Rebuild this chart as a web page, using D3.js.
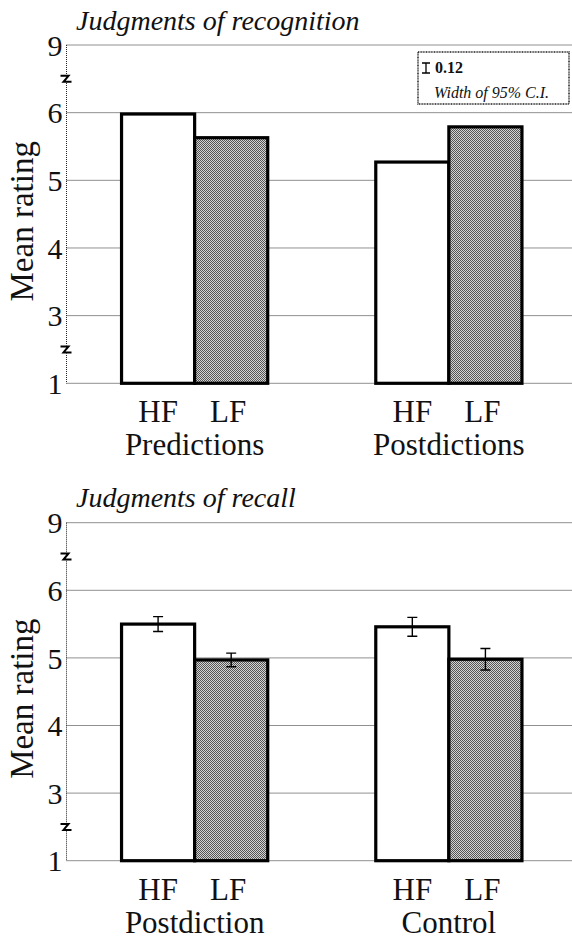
<!DOCTYPE html>
<html><head><meta charset="utf-8">
<script src="https://cdn.jsdelivr.net/npm/d3@7"></script>
<style>html,body{margin:0;padding:0;background:#fff;}svg{display:block;}
svg text{font-family:"Liberation Serif","Times New Roman",Times,serif;}</style>
</head><body>
<script>
// ---- data ----
const freqLevels = ["HF", "LF"];
const recognitionConditions = ["Predictions", "Postdictions"];
const recognitionHF = [5.98, 5.27];
const recognitionLF = [5.63, 5.79];
const recallConditions = ["Postdiction", "Control"];
const recallHF = [5.50, 5.46];
const recallLF = [4.97, 4.98];
const recallCIHF = [0.11, 0.14];
const recallCILF = [0.10, 0.16];
const yTicks = [1, 3, 4, 5, 6, 9];
const breakPoints = [7.5, 2];
const panelTitles = ["Judgments of recognition", "Judgments of recall"];
const yAxisTitle = "Mean rating";
const legendValue = "0.12";
const legendText = "Width of 95% C.I.";

// ---- layout ----
const W = 572, H = 940;
const svg = d3.select("body").append("svg").attr("width", W).attr("height", H);
const defs = svg.append("defs");
const pat = defs.append("pattern").attr("id", "stip").attr("patternUnits", "userSpaceOnUse")
  .attr("width", 2).attr("height", 2);
pat.append("rect").attr("width", 2).attr("height", 2).attr("fill", "#d4d4d4");
pat.append("rect").attr("x", 0).attr("y", 0).attr("width", 1).attr("height", 1).attr("fill", "#555");
pat.append("rect").attr("x", 1).attr("y", 1).attr("width", 1).attr("height", 1).attr("fill", "#555");

const axisX = 66.5, rightX = 572;

function panel(opts) {
  const {top, bottom, title, conds, hf, lf, ciHF, ciLF, legend} = opts;
  const g = svg.append("g");
  const step = (bottom - top) / (yTicks.length - 1);
  const y = d3.scaleLinear().domain(yTicks).range(yTicks.map((d, i) => bottom - i * step));
  const xg = d3.scaleBand().domain(conds).range([axisX, 577]).paddingInner(0.425).paddingOuter(0.2165);
  const xf = d3.scaleBand().domain(freqLevels).range([0, xg.bandwidth()]);

  // gridlines
  g.selectAll(".grid").data(yTicks).join("line")
    .attr("x1", axisX).attr("x2", rightX)
    .attr("y1", d => y(d)).attr("y2", d => y(d))
    .attr("stroke", "#222").attr("stroke-width", 1).attr("stroke-dasharray", "1,1");
  // vertical axis line
  g.append("line").attr("x1", axisX).attr("x2", axisX).attr("y1", y(9)).attr("y2", y(1))
    .attr("stroke", "#222").attr("stroke-width", 1).attr("stroke-dasharray", "1,1");

  // tick labels via axis
  const ax = g.append("g").attr("transform", `translate(${axisX},0)`)
    .call(d3.axisLeft(y).tickValues(yTicks).tickSize(0).tickPadding(4).tickFormat(d3.format("d")));
  ax.select(".domain").remove();
  ax.selectAll("text").style("font-family", '"Liberation Serif",serif').attr("font-size", 30).attr("fill", "#111")
    .attr("dy", "0.34em");

  // break marks
  breakPoints.forEach(b => {
    const cy = y(b);
    g.append("rect").attr("x", axisX - 2).attr("y", cy - 4).attr("width", 4).attr("height", 8).attr("fill", "#fff");
    g.append("path").attr("d", `M${axisX - 6},${cy - 3} L${axisX + 2},${cy - 3} L${axisX - 3},${cy + 3} L${axisX + 5},${cy + 3}`)
      .attr("fill", "none").attr("stroke", "#000").attr("stroke-width", 2);
  });

  // bars
  const rows = [];
  conds.forEach((c, i) => {
    rows.push({c, f: "HF", v: hf[i], ci: ciHF ? ciHF[i] : null});
    rows.push({c, f: "LF", v: lf[i], ci: ciLF ? ciLF[i] : null});
  });
  g.selectAll(".bar").data(rows).join("rect")
    .attr("x", d => xg(d.c) + xf(d.f)).attr("width", xf.bandwidth())
    .attr("y", d => y(d.v)).attr("height", d => y(1) - y(d.v))
    .attr("fill", d => d.f === "HF" ? "#fff" : "url(#stip)")
    .attr("stroke", "#000").attr("stroke-width", 3.2);

  // error bars
  const eb = rows.filter(d => d.ci != null);
  const cx = d => xg(d.c) + xf(d.f) + xf.bandwidth() / 2;
  g.selectAll(".eb").data(eb).join("path")
    .attr("d", d => {
      const x = cx(d), y1 = y(d.v + d.ci), y2 = y(d.v - d.ci);
      return `M${x - 5},${y1}H${x + 5}M${x},${y1}V${y2}M${x - 5},${y2}H${x + 5}`;
    })
    .attr("fill", "none").attr("stroke", "#000").attr("stroke-width", 1.4);

  // x labels
  rows.forEach(d => {
    g.append("text").attr("x", cx(d) - (d.f === "LF" ? 3 : 0)).attr("y", y(1) + 39).attr("text-anchor", "middle")
      .attr("font-size", 31).attr("fill", "#111").text(d.f);
  });
  conds.forEach(c => {
    g.append("text").attr("x", xg(c) + xg.bandwidth() / 2).attr("y", y(1) + 72).attr("text-anchor", "middle")
      .attr("font-size", 31).attr("fill", "#111").text(c);
  });

  // title
  g.append("text").attr("x", 76).attr("y", top - 15.5).attr("font-style", "italic")
    .attr("font-size", 28).attr("fill", "#111").text(title);

  // y axis title
  g.append("text").attr("transform", `translate(33,${y(1) - 162}) rotate(-90)`).attr("text-anchor", "middle")
    .attr("font-size", 33).attr("fill", "#111").text(yAxisTitle);

  if (legend) {
    const lg = g.append("g");
    lg.append("rect").attr("x", 418).attr("y", 52).attr("width", 151).attr("height", 52)
      .attr("fill", "#fff").attr("stroke", "#222").attr("stroke-width", 1.5).attr("stroke-dasharray", "1,0.6");
    lg.append("path").attr("d", "M422,63H430M426,63V73M422,73H430").attr("stroke", "#000").attr("stroke-width", 1.3).attr("fill", "none");
    lg.append("text").attr("x", 435).attr("y", 73).attr("font-weight", "bold")
      .attr("font-size", 16).attr("fill", "#111").text(legendValue);
    lg.append("text").attr("x", 434).attr("y", 98).attr("font-style", "italic")
      .attr("font-size", 16).attr("fill", "#111").text(legendText);
  }
}

panel({top: 45, bottom: 383.3, title: panelTitles[0], conds: recognitionConditions,
  hf: recognitionHF, lf: recognitionLF, legend: true});
panel({top: 522.7, bottom: 860.7, title: panelTitles[1], conds: recallConditions,
  hf: recallHF, lf: recallLF, ciHF: recallCIHF, ciLF: recallCILF, legend: false});
</script>
</body></html>
